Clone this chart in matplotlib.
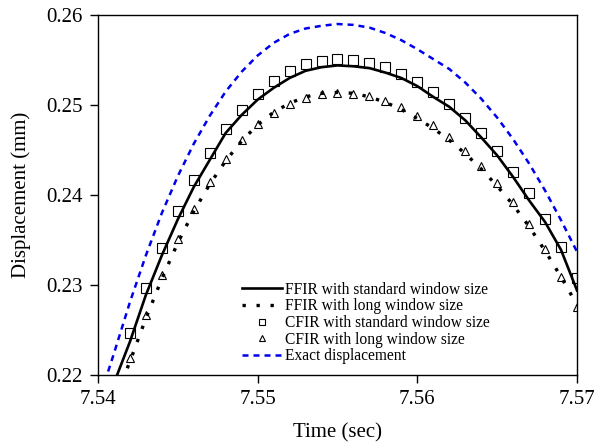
import matplotlib
matplotlib.use("Agg")
import matplotlib.pyplot as plt
import numpy as np

plt.rcParams['font.family'] = ['Liberation Serif', 'DejaVu Serif']
plt.rcParams['mathtext.fontset'] = 'stix'

# sample times (sec), one every 1 ms
t_line = np.round(np.arange(7.540, 7.5705, 0.001), 3)
t_mark = t_line[2:]

# exact displacement (mm)
exact = [0.2169, 0.2224, 0.2281, 0.2333, 0.2380, 0.2421, 0.2457, 0.2488, 0.2515,
         0.2537, 0.2555, 0.2569, 0.2579, 0.2585, 0.2588, 0.2590, 0.2589, 0.2586,
         0.2580, 0.2572, 0.2562, 0.2551, 0.2540, 0.2525, 0.2507, 0.2486, 0.2462,
         0.2435, 0.2405, 0.2372, 0.2337]

# FFIR standard window
ffir_std = [0.2140, 0.2191, 0.2237, 0.2289, 0.2333, 0.2373, 0.2409, 0.2439, 0.2469,
            0.2489, 0.2506, 0.2519, 0.2530, 0.2538, 0.2542, 0.2544, 0.2543, 0.2541,
            0.2536, 0.2530, 0.2521, 0.2509, 0.2498, 0.2483, 0.2464, 0.2444, 0.2420,
            0.2394, 0.2370, 0.2339, 0.2294]

# FFIR long window
ffir_long = [0.2120, 0.2170, 0.2215, 0.2263, 0.2307, 0.2347, 0.2382, 0.2412, 0.2438,
             0.2460, 0.2478, 0.2492, 0.2502, 0.2509, 0.2513, 0.2514, 0.2513, 0.2509,
             0.2503, 0.2495, 0.2485, 0.2474, 0.2461, 0.2446, 0.2429, 0.2410, 0.2389,
             0.2365, 0.2338, 0.2309, 0.2278]

# CFIR standard window (squares)
cfir_std = [0.2247, 0.2297, 0.2341, 0.2382, 0.2417, 0.2447, 0.2473, 0.2494, 0.2512,
            0.2527, 0.2538, 0.2546, 0.2549, 0.2551, 0.2550, 0.2547, 0.2542, 0.2534,
            0.2526, 0.2514, 0.2501, 0.2486, 0.2469, 0.2449, 0.2426, 0.2402, 0.2373,
            0.2342, 0.2308]

# CFIR long window (triangles)
cfir_long = [0.2219, 0.2267, 0.2311, 0.2351, 0.2384, 0.2414, 0.2440, 0.2461, 0.2479,
             0.2491, 0.2501, 0.2508, 0.2512, 0.2513, 0.2512, 0.2510, 0.2504, 0.2498,
             0.2488, 0.2478, 0.2464, 0.2449, 0.2432, 0.2413, 0.2392, 0.2368, 0.2340,
             0.2309, 0.2276]

fig = plt.figure(figsize=(5.94, 4.46), dpi=100)
ax = fig.add_axes([98 / 594, 1 - 375 / 446, 479 / 594, 360 / 446])

ax.plot(t_line, ffir_std, color='black', lw=1.9, label='FFIR with standard window size')
ax.plot(t_line, ffir_long, color='black', lw=2.4, linestyle=(0, (1, 3.2)),
        label='FFIR with long window size')
ax.plot(t_mark, cfir_std, 's', mfc='none', mec='black', ms=6.5, mew=0.8,
        label='CFIR with standard window size')
ax.plot(t_mark, cfir_long, '^', mfc='none', mec='black', ms=5.5, mew=0.8,
        label='CFIR with long window size')
ax.plot(t_line, exact, color='#0000ee', lw=1.8, linestyle=(0, (2.4, 2.0)),
        label='Exact displacement')

ax.set_xlim(7.54, 7.57)
ax.set_ylim(0.22, 0.26)
ax.set_xticks([7.54, 7.55, 7.56, 7.57])
ax.set_yticks([0.22, 0.23, 0.24, 0.25, 0.26])
ax.set_xticklabels(['7.54', '7.55', '7.56', '7.57'])
ax.set_yticklabels(['0.22', '0.23', '0.24', '0.25', '0.26'])
ax.tick_params(direction='out', length=6, width=1, labelsize=15, pad=5)
for s in ax.spines.values():
    s.set_linewidth(1.0)

ax.set_xlabel('Time (sec)', fontsize=15, labelpad=10)
ax.set_ylabel('Displacement (mm)', fontsize=15, labelpad=11)

ax.legend(loc='lower left', bbox_to_anchor=(0.30, 0.03), frameon=False, fontsize=11.2,
          handlelength=2.6, handletextpad=0.2, labelspacing=0.04, borderaxespad=0,
          borderpad=0, markerscale=0.75)

fig.savefig('out.png', dpi=100)
